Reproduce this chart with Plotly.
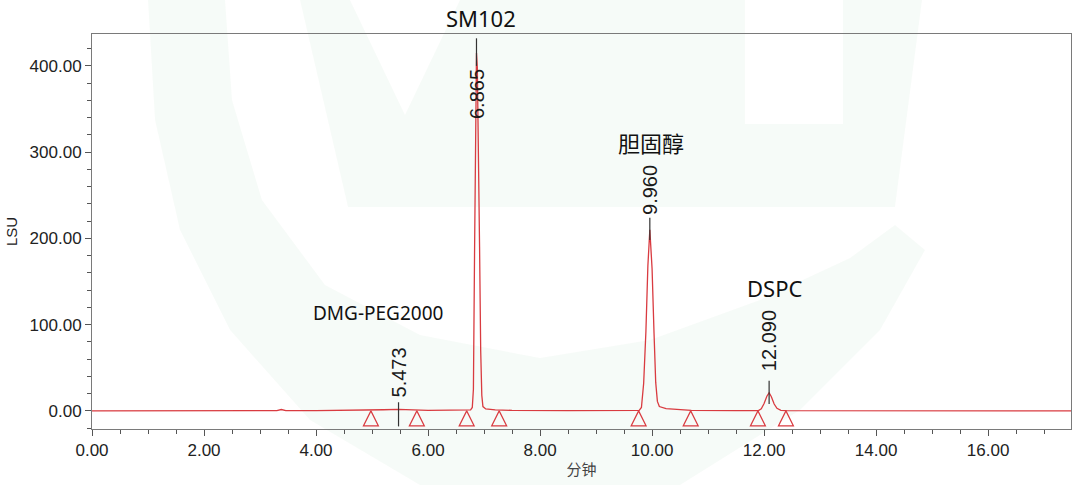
import plotly.graph_objects as go

# ---------------- data ----------------
time_min = [0.0, 1.0, 2.0, 3.0, 3.30, 3.38, 3.46, 4.0, 4.5, 4.95, 5.20, 5.473, 5.70, 6.00,
            6.40, 6.70, 6.76, 6.79, 6.81, 6.83, 6.85, 6.865, 6.88, 6.90, 6.92, 6.94, 6.96,
            6.98, 7.03, 7.20, 7.50, 8.50, 9.50, 9.77, 9.81, 9.85, 9.89, 9.925, 9.960, 10.00,
            10.035, 10.065, 10.095, 10.13, 10.25, 10.50, 10.70, 11.50, 11.90, 11.95, 12.00,
            12.05, 12.090, 12.13, 12.18, 12.23, 12.30, 12.40, 13.50, 14.60, 14.70, 14.80, 17.50]
signal_lsu = [0.0, 0.0, 0.1, 0.2, 0.3, 1.6, 0.3, 0.2, 0.3, 0.4, 1.3, 1.8, 1.2, 0.7,
              0.8, 0.9, 1.2, 4.0, 25.0, 180.0, 340.0, 415.0, 398.0, 310.0, 190.0, 70.0, 18.0,
              5.0, 2.2, 1.2, 0.6, 0.4, 0.3, 0.6, 4.0, 32.0, 92.0, 168.0, 210.0, 165.0,
              90.0, 33.0, 11.0, 5.0, 2.6, 1.3, 0.5, 0.2, 0.4, 2.5, 8.5,
              17.0, 21.0, 16.5, 8.0, 3.0, 0.7, 0.2, 0.1, 0.1, 0.5, 0.1, 0.0]

# integration start/end markers
event_time = [4.98, 5.80, 6.69, 7.27, 9.76, 10.69, 11.89, 12.39]
event_lsu = [0, 0, 0, 0, 0, 0, 0, 0]

# peak retention times, apex tick extents and label centres
peak_rt = [5.473, 6.865, 9.960, 12.090]
peak_tick_low = [-18, 400, 198, 8]
peak_tick_high = [10, 432, 224, 35]
peak_label = ["5.473", "6.865", "9.960", "12.090"]
peak_label_y = [44, 368, 256, 81]

compound_name = ["DMG-PEG2000", "SM102", "胆固醇", "DSPC"]
compound_x = [5.11, 6.95, 9.98, 12.18]
compound_y = [114, 456, 311, 142]

x_range = [0, 17.48]
y_range = [-21, 437]

RED = "#d93b40"
fig = go.Figure()

# ---- faint watermark logo (decorative, pixel -> paper) ----
L, R, T, B = 92, 1071, 34, 429
def px(x, y):
    return (x - L) / (R - L), (B - y) / (B - T)

def path(points):
    s = ""
    for i, (x, y) in enumerate(points):
        u, v = px(x, y)
        s += ("M" if i == 0 else "L") + f"{u:.4f},{v:.4f}"
    return s + "Z"

ring = [(148, 0), (225, 0), (232, 100), (262, 200), (325, 285), (420, 335), (540, 358),
        (650, 340), (760, 300), (850, 258), (895, 225), (925, 250), (880, 330),
        (800, 410), (680, 485), (420, 485), (310, 420), (230, 330), (180, 230),
        (155, 120)]
wshape = [(300, 0), (350, 0), (405, 115), (460, 0), (745, 0), (745, 124), (843, 124),
          (843, 0), (922, 0), (895, 207), (348, 207)]
for pts in (ring, wshape):
    fig.add_shape(type="path", path=path(pts), xref="paper", yref="paper",
                  fillcolor="rgba(0,150,70,0.035)", line_width=0, layer="below")

# ---- chromatogram ----
fig.add_trace(go.Scatter(x=time_min, y=signal_lsu, mode="lines",
                         line=dict(color=RED, width=1.3), hoverinfo="x+y"))

# integration markers
fig.add_trace(go.Scatter(x=event_time, y=event_lsu, mode="markers",
                         marker=dict(symbol="arrow-up-open", size=15, color=RED,
                                     line=dict(color=RED, width=1.2)),
                         hoverinfo="skip"))

# apex ticks
tx, ty = [], []
for x, lo, hi in zip(peak_rt, peak_tick_low, peak_tick_high):
    tx += [x, x, None]
    ty += [lo, hi, None]
fig.add_trace(go.Scatter(x=tx, y=ty, mode="lines", line=dict(color="#333333", width=1.2),
                         hoverinfo="skip"))

# retention time labels
for x, y, t in zip(peak_rt, peak_label_y, peak_label):
    fig.add_annotation(x=x, y=y, text=t, textangle=-90, showarrow=False,
                       xanchor="center", yanchor="middle",
                       font=dict(family="Liberation Sans, Arial", size=20, color="#1a1a1a"))

# compound names
for name, x, y in zip(compound_name, compound_x, compound_y):
    yref = "y"
    yy = y
    if y > y_range[1]:
        yref = "paper"
        yy = (y - y_range[0]) / (y_range[1] - y_range[0])
    fig.add_annotation(x=x, y=yy, yref=yref, text=name, showarrow=False,
                       xanchor="center", yanchor="middle",
                       font=dict(family="Noto Sans, Noto Sans CJK SC",
                                 size=19 if name.startswith("DMG") else 22,
                                 color="#111111"))

axis_common = dict(showline=True, linecolor="#7a7a7a", linewidth=1, mirror=True,
                   showgrid=False, zeroline=False, ticks="outside", tickcolor="#555555",
                   ticklen=6, tickwidth=1, tickformat=".2f", automargin=False,
                   tickfont=dict(family="Liberation Sans, Arial", size=17, color="#222222"))

fig.update_xaxes(range=x_range, dtick=2, tick0=0,
                 minor=dict(dtick=0.5, ticks="outside", ticklen=4, tickcolor="#555555",
                            showgrid=False),
                 title=dict(text="分钟", standoff=5,
                            font=dict(family="Noto Sans CJK SC", size=15, color="#444444")),
                 **axis_common)
fig.update_yaxes(range=y_range, dtick=100, tick0=0,
                 minor=dict(dtick=20, ticks="outside", ticklen=4, tickcolor="#555555",
                            showgrid=False),
                 title=dict(text="LSU", standoff=8,
                            font=dict(family="Liberation Sans, Arial", size=15, color="#222222")),
                 **axis_common)

fig.update_layout(width=1080, height=485, showlegend=False,
                  margin=dict(l=L, r=1080 - R, t=T, b=485 - B, autoexpand=False),
                  paper_bgcolor="white", plot_bgcolor="rgba(0,0,0,0)")

fig.write_html("out.html", config={"displayModeBar": False},
               post_script="document.body.style.margin='0';document.body.style.overflow='hidden';")
